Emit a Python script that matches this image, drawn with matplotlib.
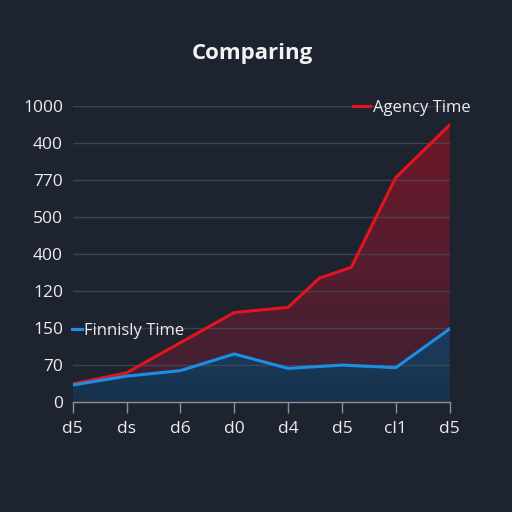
import matplotlib
matplotlib.use("Agg")
import matplotlib.pyplot as plt
import numpy as np
from matplotlib.colors import LinearSegmentedColormap
from matplotlib.lines import Line2D

# ---- data (in gridline-position units) ----
x_labels = ['d5', 'ds', 'd6', 'd0', 'd4', 'd5', 'cl1', 'd5']
y_labels = ['0', '70', '150', '120', '400', '500', '770', '400', '1000']
agency_x = [0, 1, 3, 4, 4.58, 5.17, 6, 7]
agency_y = [0.48, 0.78, 2.41, 2.55, 3.34, 3.63, 6.06, 7.48]
finish_x = [0, 1, 2, 3, 4, 5, 6, 7]
finish_y = [0.45, 0.69, 0.84, 1.29, 0.90, 0.99, 0.92, 1.97]

BG = '#1e2330'
RED = '#e3141d'
BLUE = '#1b8ee6'
TXT = '#ececec'

plt.rcParams['font.family'] = ['Open Sans', 'DejaVu Sans']

fig = plt.figure(figsize=(5.12, 5.12), dpi=100, facecolor=BG)
ax = fig.add_axes([72.7/512, (512-401.7)/512, (449.7-72.7)/512, (401.7-105.7)/512])
ax.set_facecolor(BG)


def gradient_fill(x, y, top_col, bot_col, ymax, z):
    poly = ax.fill_between(x, y, 0, color='none', lw=0, zorder=z)
    cmap = LinearSegmentedColormap.from_list('g', [bot_col, top_col])
    grad = np.linspace(0, 1, 256).reshape(-1, 1)
    im = ax.imshow(grad, extent=[0, 7, 0, ymax], origin='lower', aspect='auto',
                   cmap=cmap, zorder=z)
    im.set_clip_path(poly.get_paths()[0], transform=ax.transData)
    return im


gradient_fill(agency_x, agency_y, '#6e1828', '#3c2234', max(agency_y), 1)
gradient_fill(finish_x, finish_y, '#1c3d60', '#17314b', max(finish_y), 2)
ax.set_xlim(0, 7)
ax.set_ylim(0, 8)

ax.set_yticks(range(len(y_labels)))
ax.set_yticklabels(y_labels)
ax.set_xticks(range(len(x_labels)))
ax.set_xticklabels(x_labels)
ax.yaxis.grid(True, color='#4a505c', lw=1, alpha=0.7, zorder=3)
ax.set_axisbelow(False)
ax.xaxis.grid(False)

ax.plot(agency_x, agency_y, color=RED, lw=2.2, zorder=5, solid_joinstyle='round')
ax.plot(finish_x, finish_y, color=BLUE, lw=2.2, zorder=6, solid_joinstyle='round')

for s in ['top', 'right', 'left']:
    ax.spines[s].set_visible(False)
ax.spines['bottom'].set_color('#8a8f99')
ax.spines['bottom'].set_linewidth(1)
ax.spines['bottom'].set_zorder(7)
ax.tick_params(axis='y', length=0, pad=7, labelsize=12.5, labelcolor=TXT)
ax.tick_params(axis='x', length=8, width=1, color='#8a8f99', pad=6,
               labelsize=12.5, labelcolor=TXT)

leg1 = ax.legend([Line2D([], [], color=RED, lw=2.2)], ['Agency Time'],
                 loc='center left', bbox_to_anchor=((353-72.7)/377, (401.7-107.7)/296),
                 frameon=False, handlelength=1.0, handletextpad=0.2, borderpad=0,
                 borderaxespad=0, fontsize=12, labelcolor=TXT)
ax.add_artist(leg1)
leg1.set_zorder(10)
leg2 = ax.legend([Line2D([], [], color=BLUE, lw=2.2)], ['Finnisly Time'],
                 loc='center left', bbox_to_anchor=(-0.003, (401.7-331.2)/296),
                 frameon=False, handlelength=0.65, handletextpad=0.1, borderpad=0,
                 borderaxespad=0, fontsize=12, labelcolor=TXT)
leg2.set_zorder(10)

fig.text(252.5/512, 1-54/512, 'Comparing', ha='center', va='center',
         fontsize=16, fontweight='bold', color='#f2f2f2')

fig.savefig('out.png', dpi=100, facecolor=BG)
